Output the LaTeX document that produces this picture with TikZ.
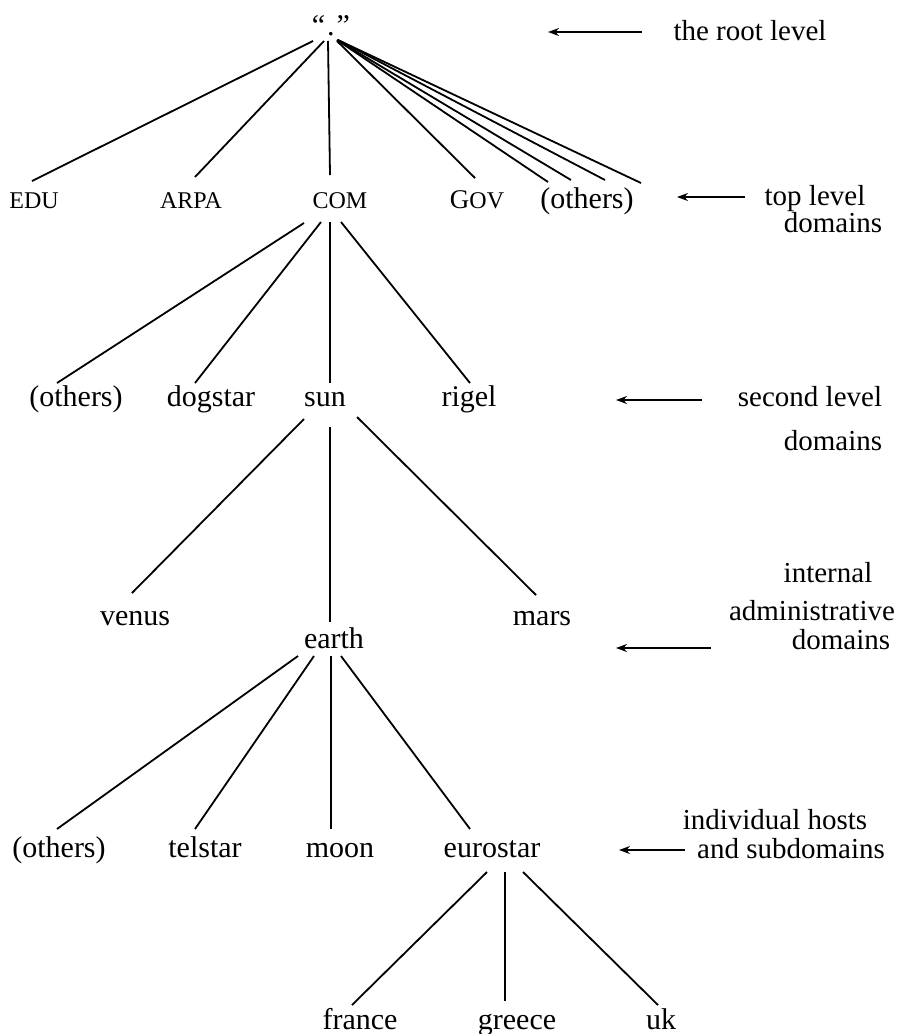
\documentclass[tikz,border=0pt]{standalone}
\usepackage{fontspec}
\setmainfont{Liberation Serif}
\usetikzlibrary{calc,arrows.meta}
\begin{document}
\begin{tikzpicture}[x=1pt,y=-1pt,
  lab/.style={font=\fontsize{30}{36}\selectfont,inner sep=0pt,anchor=base},
  caps/.style={font=\fontsize{24}{28}\selectfont,inner sep=0pt,anchor=base},
  ann/.style={font=\fontsize{29}{34}\selectfont,inner sep=0pt,anchor=base,align=center},
  edge/.style={line width=1.8pt},
  ptr/.style={line width=1.8pt,-{Stealth[length=11pt,width=8pt]}}]
\useasboundingbox (0,0) rectangle (899,1034);
% nodes
\node[lab] (root) at (331,35) {“\hspace{2pt}.\hspace{2pt}”};
\node[caps] (edu) at (34,208) {EDU};
\node[caps] (arpa) at (191,208) {ARPA};
\node[caps] (com) at (340,208) {COM};
\node[caps] (gov) at (477,208) {{\fontsize{27}{28}\selectfont G}OV};
\node[lab] (toth) at (587,208) {(others)};
\node[lab] (soth) at (76,406) {(others)};
\node[lab] (dogstar) at (211,406) {dogstar};
\node[lab] (sun) at (325,406) {sun};
\node[lab] (rigel) at (469,406) {rigel};
\node[lab] (venus) at (135,625) {venus};
\node[lab] (earth) at (334,648) {earth};
\node[lab] (mars) at (542,625) {mars};
\node[lab] (hoth) at (59,857) {(others)};
\node[lab] (telstar) at (205,857) {telstar};
\node[lab] (moon) at (340,857) {moon};
\node[lab] (eurostar) at (492,857) {eurostar};
\node[lab] (france) at (360,1029) {france};
\node[lab] (greece) at (517,1029) {greece};
\node[lab] (uk) at (661,1029) {uk};
% annotations
\node[ann] (a1) at (750,40) {the root level};
\node[ann] (a2a) at (815,205) {top level};
\node[ann] (a2b) at (833,232) {domains};
\node[ann] (a3a) at (810,406) {second level};
\node[ann] (a3b) at (833,450) {domains};
\node[ann] (a4a) at (828,582) {internal};
\node[ann] (a4b) at (812,620) {administrative};
\node[ann] (a4c) at (841,649) {domains};
\node[ann] (a5a) at (775,829) {individual hosts};
\node[ann] (a5b) at (791,858) {and subdomains};
\coordinate (p1) at (548,32);
\coordinate (p2) at (677,197);
\coordinate (p3) at (616,400);
\coordinate (p4) at (616,648);
\coordinate (p5) at (619,850);
\draw[ptr] ($(a1.base)+(-108,-8)$) -- (p1);
\draw[ptr] ($(a2a.base)+(-70,-8)$) -- (p2);
\draw[ptr] ($(a3a.base)+(-108,-6)$) -- (p3);
\draw[ptr] ($(a4c.base)+(-130,-1)$) -- (p4);
\draw[ptr] ($(a5b.base)+(-106,-8)$) -- (p5);
% root edges
\draw[edge] ($(root.base)+(-18,6)$) -- ($(edu.base)+(-2,-27)$);
\draw[edge] ($(root.base)+(-7,6)$) -- ($(arpa.base)+(4,-31)$);
\draw[edge] ($(root.base)+(-3,6)$) -- ($(com.base)+(-10,-33)$);
\draw[edge] ($(root.base)+(6,6)$) -- ($(gov.base)+(-2,-30)$);
\draw[edge] ($(root.base)+(6,5)$) -- ($(toth.base)+(-39,-26)$);
\draw[edge] ($(root.base)+(6,5)$) -- ($(toth.base)+(-16,-28)$);
\draw[edge] ($(root.base)+(7,5)$) -- ($(toth.base)+(18,-28)$);
\draw[edge] ($(root.base)+(7,5)$) -- ($(toth.base)+(54,-25)$);
% COM edges
\draw[edge] ($(com.base)+(-36,15)$) -- ($(soth.base)+(-19,-23)$);
\draw[edge] ($(com.base)+(-19,14)$) -- ($(dogstar.base)+(-16,-23)$);
\draw[edge] ($(com.base)+(-10,14)$) -- ($(sun.base)+(5,-23)$);
\draw[edge] ($(com.base)+(1,14)$) -- ($(rigel.base)+(1,-23)$);
% sun edges
\draw[edge] ($(sun.base)+(-21,13)$) -- ($(venus.base)+(-3,-32)$);
\draw[edge] ($(sun.base)+(5,21)$) -- ($(earth.base)+(-4,-26)$);
\draw[edge] ($(sun.base)+(32,11)$) -- ($(mars.base)+(-6,-30)$);
% earth edges
\draw[edge] ($(earth.base)+(-36,8)$) -- ($(hoth.base)+(-2,-28)$);
\draw[edge] ($(earth.base)+(-20,8)$) -- ($(telstar.base)+(-10,-28)$);
\draw[edge] ($(earth.base)+(-3,8)$) -- ($(moon.base)+(-9,-28)$);
\draw[edge] ($(earth.base)+(7,8)$) -- ($(eurostar.base)+(-22,-28)$);
% eurostar edges
\draw[edge] ($(eurostar.base)+(-5,15)$) -- ($(france.base)+(-8,-24)$);
\draw[edge] ($(eurostar.base)+(13,15)$) -- ($(greece.base)+(-12,-28)$);
\draw[edge] ($(eurostar.base)+(31,15)$) -- ($(uk.base)+(-3,-24)$);
\end{tikzpicture}
\end{document}
